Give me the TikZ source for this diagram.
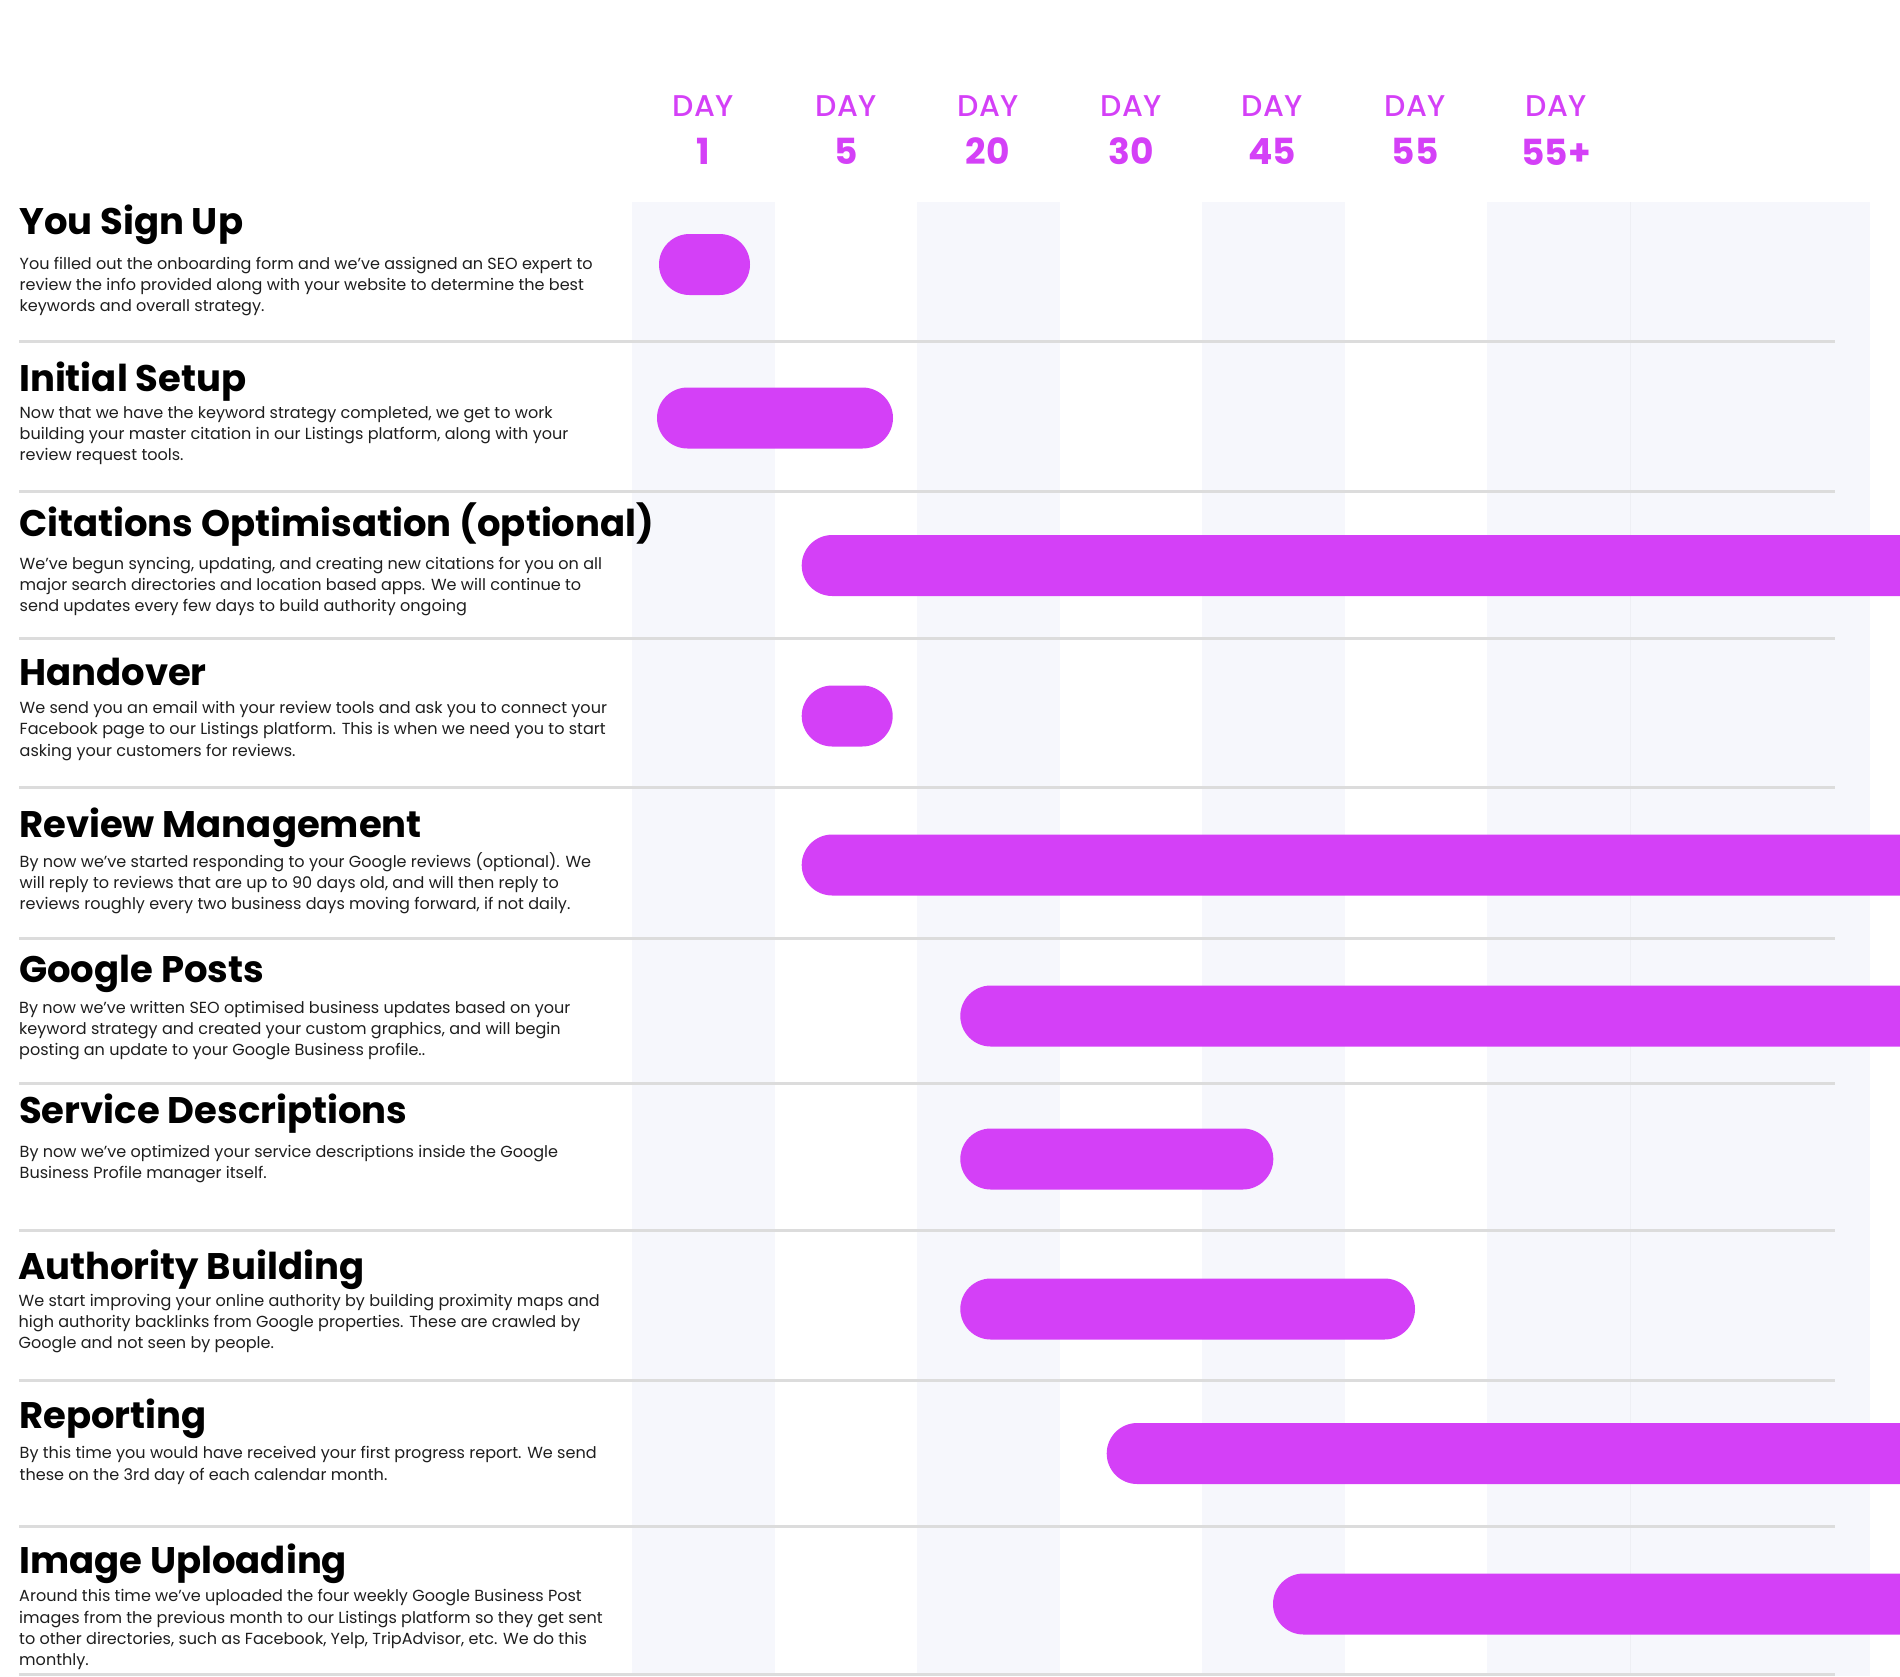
\documentclass[tikz,border=0pt]{standalone}
\usepackage{fontspec}
\setmainfont{Poppins}
\newfontfamily\popmed{Poppins}[UprightFont=* Medium]
\definecolor{mag}{HTML}{D440F7}
\definecolor{stripe}{HTML}{F6F7FC}
\definecolor{sepc}{HTML}{DCDCDC}
\definecolor{desctext}{HTML}{1E1E1E}
\newcommand\dlines[1]{\vtop{\baselineskip=21.2pt\lineskiplimit=-20pt\lineskip=0pt #1}}
\begin{document}
\begin{tikzpicture}[x=1pt,y=-1pt,
  rtitle/.style={anchor=base west, inner sep=0pt, font=\fontsize{37}{40}\selectfont\bfseries, text=black},
  rdesc/.style={anchor=base west, inner sep=0pt, font=\fontsize{16.05}{21.2}\selectfont, text=desctext},
  dayw/.style={anchor=base, inner sep=0pt, font=\popmed\fontsize{30}{30}\selectfont, text=mag},
  dayn/.style={anchor=base, inner sep=0pt, font=\fontsize{36}{36}\selectfont\bfseries, text=mag},
  bar/.style={fill=mag, rounded corners=30.5pt},
  sepline/.style={draw=sepc, line width=3pt},
  stripefill/.style={fill=stripe}]
\useasboundingbox (0,0) rectangle (1900,1676);
\clip (0,0) rectangle (1900,1676);
% column stripes
\foreach \a/\b in {632/775, 917/1060, 1202/1345, 1487/1630, 1630/1870}
  \fill[stripefill] (\a,202) rectangle (\b,1676);
\draw[draw=stripe!92!black!40!stripe, line width=0.6pt] (1630,202) -- (1630,1676);
% header
\node[dayw] (h1) at (703,116) {DAY};  \node[dayn] (n1) at (703,164) {1};
\node[dayw] (h2) at (846,116) {DAY};  \node[dayn] (n2) at (846,164) {5};
\node[dayw] (h3) at (988,116) {DAY};  \node[dayn] (n3) at (988,164) {20};
\node[dayw] (h4) at (1131,116) {DAY}; \node[dayn] (n4) at (1131,164) {30};
\node[dayw] (h5) at (1272,116) {DAY}; \node[dayn] (n5) at (1272,164) {45};
\node[dayw] (h6) at (1415,116) {DAY}; \node[dayn] (n6) at (1415,164) {55};
\node[dayw] (h7) at (1556,116) {DAY}; \node[dayn] (n7) at (1556,165) {55+};
% separators
\foreach \y in {341.5, 491, 638, 787.6, 938, 1083, 1230, 1380, 1526.5, 1674.6}
  \draw[sepline] (19,\y) -- (1835,\y);
% bars
\fill[bar] (659,234) rectangle (750,295);
\fill[bar] (657,387.5) rectangle (893,448.5);
\fill[bar] (801.7,535) rectangle (1960,596);
\fill[bar] (801.7,685.5) rectangle (892.7,746.5);
\fill[bar] (801.7,834.5) rectangle (1960,895.5);
\fill[bar] (960.3,985.5) rectangle (1960,1046.5);
\fill[bar] (960.3,1128.5) rectangle (1273.3,1189.5);
\fill[bar] (960.3,1278.5) rectangle (1415,1339.5);
\fill[bar] (1106.7,1423) rectangle (1960,1484);
\fill[bar] (1273,1573.5) rectangle (1960,1634.5);
% rows
\node[rtitle] (t1) at (19,234.7) {You Sign Up};
\node[rdesc] (d1) at (19.5,269) {\dlines{\hbox{You filled out the onboarding form and we’ve assigned an SEO expert to}\hbox{review the info provided along with your website to determine the best}\hbox{keywords and overall strategy.}}};
\node[rtitle] (t2) at (19,391) {Initial Setup};
\node[rdesc] (d2) at (19.5,418) {\dlines{\hbox{Now that we have the keyword strategy completed, we get to work}\hbox{building your master citation in our Listings platform, along with your}\hbox{review request tools.}}};
\node[rtitle] (t3) at (19,536.5) {Citations Optimisation (optional)};
\node[rdesc] (d3) at (19.5,569.4) {\dlines{\hbox{We've begun syncing, updating, and creating new citations for you on all}\hbox{major search directories and location based apps. We will continue to}\hbox{send updates every few days to build authority ongoing}}};
\node[rtitle] (t4) at (19,685.5) {Handover};
\node[rdesc] (d4) at (19.5,713.6) {\dlines{\hbox{We send you an email with your review tools and ask you to connect your}\hbox{Facebook page to our Listings platform. This is when we need you to start}\hbox{asking your customers for reviews.}}};
\node[rtitle] (t5) at (19,837) {Review Management};
\node[rdesc] (d5) at (19.5,867.5) {\dlines{\hbox{By now we’ve started responding to your Google reviews (optional). We}\hbox{will reply to reviews that are up to 90 days old, and will then reply to}\hbox{reviews roughly every two business days moving forward, if not daily.}}};
\node[rtitle] (t6) at (19,982.4) {Google Posts};
\node[rdesc] (d6) at (19,1013) {\dlines{\hbox{By now we’ve written SEO optimised business updates based on your}\hbox{keyword strategy and created your custom graphics, and will begin}\hbox{posting an update to your Google Business profile..}}};
\node[rtitle] (t7) at (19,1123) {Service Descriptions};
\node[rdesc] (d7) at (19.5,1157) {\dlines{\hbox{By now we’ve optimized your service descriptions inside the Google}\hbox{Business Profile manager itself.}}};
\node[rtitle] (t8) at (18,1279) {Authority Building};
\node[rdesc] (d8) at (18.5,1306) {\dlines{\hbox{We start improving your online authority by building proximity maps and}\hbox{high authority backlinks from Google properties. These are crawled by}\hbox{Google and not seen by people.}}};
\node[rtitle] (t9) at (19,1428) {Reporting};
\node[rdesc] (d9) at (19.5,1458.8) {\dlines{\hbox{By this time you would have received your first progress report. We send}\hbox{these on the 3rd day of each calendar month.}}};
\node[rtitle] (t10) at (19,1573.7) {Image Uploading};
\node[rdesc] (d10) at (19,1601.8) {\dlines{\hbox{Around this time we’ve uploaded the four weekly Google Business Post}\hbox{images from the previous month to our Listings platform so they get sent}\hbox{to other directories, such as Facebook, Yelp, TripAdvisor, etc. We do this}\hbox{monthly.}}};
\end{tikzpicture}
\end{document}
